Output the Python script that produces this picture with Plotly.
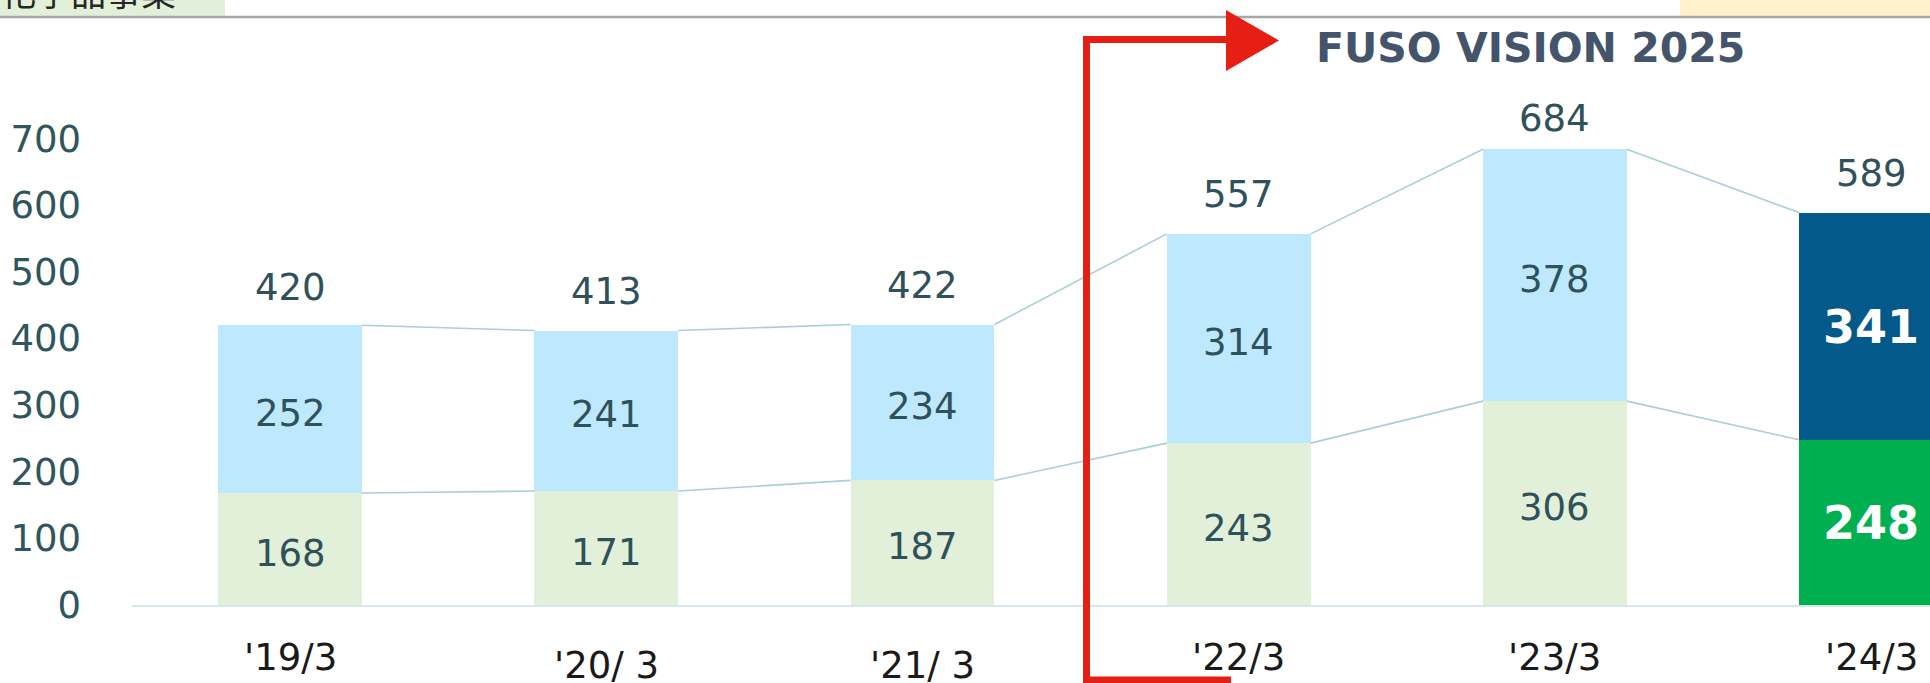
import plotly.graph_objects as go

# ---- data ----
categories = ["'19/3", "'20/ 3", "'21/ 3", "'22/3", "'23/3", "'24/3"]
lower_vals = [168, 171, 187, 243, 306, 248]
upper_vals = [252, 241, 234, 314, 378, 341]
totals = [420, 413, 422, 557, 684, 589]
y_ticks = [0, 100, 200, 300, 400, 500, 600, 700]
title_text = "FUSO VISION 2025"
header_text = "機能性化学品事業"

# ---- layout constants ----
W, H = 1930, 683
ML, MR, MT, MB = 132, 0, 72, 78
PW, PH = W - ML - MR, H - MT - MB
BAR_W = 0.455
HW = BAR_W / 2

def px2x(px):
    return (px - ML) / PW

def py2y(py):
    return (H - MB - py) / PH

n = len(categories)
xs = list(range(n))
lower_colors = ["#E2F0D9"] * (n - 1) + ["#00B050"]
upper_colors = ["#BDE8FE"] * (n - 1) + ["#02598A"]
label_color = "#2F5159"

fig = go.Figure()
fig.add_trace(go.Bar(x=xs, y=lower_vals, width=BAR_W,
                     marker=dict(color=lower_colors, line=dict(width=0)), hoverinfo="skip"))
fig.add_trace(go.Bar(x=xs, y=upper_vals, width=BAR_W,
                     marker=dict(color=upper_colors, line=dict(width=0)), hoverinfo="skip"))

# connector lines
tops = [a + b for a, b in zip(lower_vals, upper_vals)]
for series in (tops, lower_vals):
    lx, ly = [], []
    for i in range(n - 1):
        lx += [xs[i] + HW, xs[i + 1] - HW, None]
        ly += [series[i], series[i + 1], None]
    fig.add_trace(go.Scatter(x=lx, y=ly, mode="lines",
                             line=dict(color="#A9CFD7", width=1.6), hoverinfo="skip"))

annotations = []
# labels inside segments
for i in range(n):
    last = i == n - 1
    for base, val in ((0, lower_vals[i]), (lower_vals[i], upper_vals[i])):
        annotations.append(dict(
            x=xs[i], y=base + val / 2, text=(f"<b>{val}</b>" if last else str(val)),
            showarrow=False, yanchor="middle", yshift=(-1 if last else -4),
            font=dict(family="DejaVu Sans", size=(46 if last else 37),
                      color=("white" if last else label_color))))
total_offsets = [38, 38, 38, 39, 31, 39]
for i, t in enumerate(totals):
    annotations.append(dict(x=xs[i], y=t, text=str(t), showarrow=False, yanchor="middle",
                            yshift=total_offsets[i],
                            font=dict(family="DejaVu Sans", size=37, color=label_color)))
xlabel_offsets = [52, 60, 60, 52, 52, 52]
for i, c in enumerate(categories):
    annotations.append(dict(x=xs[i], y=0, xref="x", yref="paper", text=c, showarrow=False,
                            yanchor="middle", yshift=-xlabel_offsets[i],
                            font=dict(family="DejaVu Sans", size=37, color="#1A1A1A")))
annotations.append(dict(x=px2x(1530), y=py2y(48), xref="paper", yref="paper", text=f"<b>{title_text}</b>",
                        showarrow=False, xanchor="center", yanchor="middle",
                        font=dict(family="DejaVu Sans", size=41, color="#44546A")))
annotations.append(dict(x=px2x(178), y=py2y(-9), xref="paper", yref="paper", text=header_text,
                        showarrow=False, xanchor="right", yanchor="middle",
                        font=dict(family="Noto Sans CJK JP", size=35, color="#262626")))

shapes = [
    dict(type="rect", xref="paper", yref="paper", x0=px2x(-5), x1=px2x(225), y0=py2y(16), y1=py2y(-20),
         fillcolor="#E2F0D9", line=dict(width=0), layer="below"),
    dict(type="rect", xref="paper", yref="paper", x0=px2x(1680), x1=px2x(1940), y0=py2y(16), y1=py2y(-20),
         fillcolor="#FFF2CC", line=dict(width=0), layer="below"),
    dict(type="line", xref="paper", yref="paper", x0=px2x(-5), x1=px2x(1940), y0=py2y(17), y1=py2y(17),
         line=dict(color="#A6A6A6", width=2.5)),
    dict(type="path", xref="paper", yref="paper",
         path=f"M {px2x(1231)},{py2y(680)} L {px2x(1086.5)},{py2y(680)} L {px2x(1086.5)},{py2y(39.5)} L {px2x(1228)},{py2y(39.5)}",
         line=dict(color="#E61F14", width=7)),
    dict(type="path", xref="paper", yref="paper",
         path=f"M {px2x(1226)},{py2y(10)} L {px2x(1226)},{py2y(71)} L {px2x(1279)},{py2y(40.5)} Z",
         fillcolor="#E61F14", line=dict(color="#E61F14", width=0)),
]

fig.update_layout(
    width=W, height=H, margin=dict(l=ML, r=MR, t=MT, b=MB),
    barmode="stack", bargap=0, showlegend=False,
    plot_bgcolor="white", paper_bgcolor="white",
    annotations=annotations, shapes=shapes,
    xaxis=dict(range=[-0.5, 5.5 - (ML + 6 * 316.2 - W) / 316.2], tickvals=xs, showticklabels=False,
               showgrid=False, zeroline=False, showline=True, linecolor="#D6E8EE", linewidth=2,
               fixedrange=True),
    yaxis=dict(range=[0, 800], tickvals=y_ticks, showgrid=False, zeroline=False, showline=False,
               ticks="", ticklabelstandoff=50,
               tickfont=dict(family="DejaVu Sans", size=37, color="#2F555D"), fixedrange=True),
)

fig.write_html("out.html", config={"displayModeBar": False},
               post_script="document.body.style.margin='0';document.body.style.overflow='hidden';")
